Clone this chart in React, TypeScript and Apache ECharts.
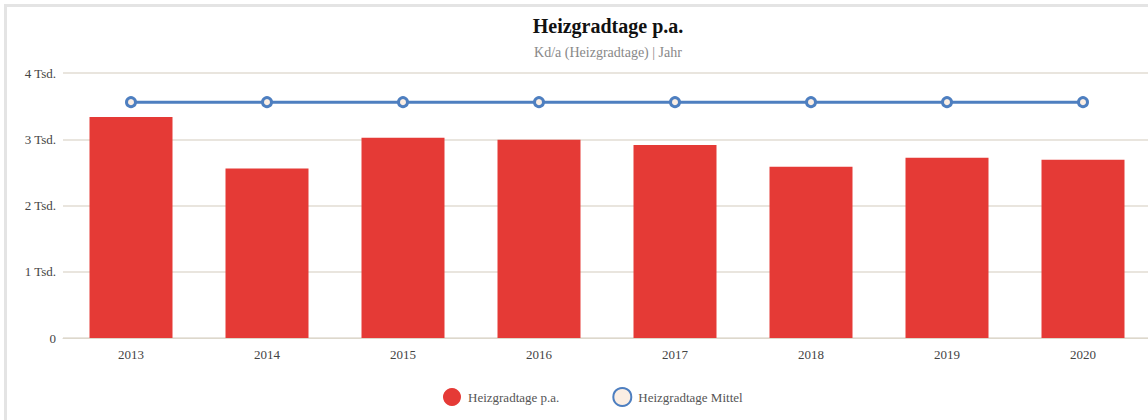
import React, { useEffect, useRef } from "react";
import * as echarts from "echarts";

const categories = ["2013", "2014", "2015", "2016", "2017", "2018", "2019", "2020"];
const heizgradtage = [3336, 2560, 3022, 2992, 2915, 2585, 2720, 2690];
const mittel = [3560, 3560, 3560, 3560, 3560, 3560, 3560, 3560];
const yTicks = [0, 1000, 2000, 3000, 4000];

const FONT = "'Liberation Serif', 'Times New Roman', serif";

export default function App() {
  const ref = useRef<HTMLDivElement>(null);
  useEffect(() => {
    if (!ref.current) return;
    const chart = echarts.init(ref.current, undefined, { renderer: "svg" });
    chart.setOption({
      animation: false,
      textStyle: { fontFamily: FONT },
      title: {
        text: "Heizgradtage p.a.",
        subtext: "Kd/a (Heizgradtage) | Jahr",
        left: "center",
        top: 9,
        padding: 0,
        itemGap: 9,
        textStyle: { fontFamily: FONT, fontSize: 20, fontWeight: "bold", color: "#111" },
        subtextStyle: { fontFamily: FONT, fontSize: 14, color: "#888" },
      },
      legend: {
        left: 431,
        top: 375,
        itemWidth: 18,
        itemHeight: 18,
        itemGap: 53,
        textStyle: { fontFamily: FONT, fontSize: 13, color: "#555", padding: [0, 0, 0, 2] },
        data: [
          { name: "Heizgradtage p.a.", icon: "circle" },
          { name: "Heizgradtage Mittel", icon: "circle" },
        ],
      },
      grid: { left: 56, right: 58, top: 66, bottom: 109, containLabel: false },
      xAxis: {
        type: "category",
        data: categories,
        axisTick: { show: false },
        axisLine: { lineStyle: { color: "#ddd8cc", width: 1 } },
        axisLabel: { color: "#444", fontSize: 13, fontFamily: FONT, margin: 10 },
      },
      yAxis: {
        type: "value",
        min: yTicks[0],
        max: yTicks[yTicks.length - 1],
        interval: 1000,
        axisLine: { show: false },
        axisTick: { show: false },
        splitLine: { lineStyle: { color: "#e2ddd3", width: 1.5 } },
        axisLabel: {
          color: "#444",
          fontSize: 13,
          fontFamily: FONT,
          margin: 7,
          formatter: (v: number) => (v === 0 ? "0" : `${v / 1000} Tsd.`),
        },
      },
      series: [
        {
          name: "Heizgradtage p.a.",
          type: "bar",
          data: heizgradtage,
          barWidth: 83,
          itemStyle: { color: "#e53a36" },
        },
        {
          name: "Heizgradtage Mittel",
          type: "line",
          data: mittel,
          symbol: "circle",
          symbolSize: 9,
          showAllSymbol: true,
          lineStyle: { color: "#4e7fc0", width: 3 },
          itemStyle: { color: "#fbeee3", borderColor: "#4e7fc0", borderWidth: 3 },
        },
      ],
    });
    return () => chart.dispose();
  }, []);

  return (
    <div style={{ position: "fixed", left: 0, top: 0, width: 1148, height: 420, overflow: "hidden", background: "#fff" }}>
      <div
        style={{
          position: "absolute",
          left: 4,
          top: 4,
          width: 1202,
          height: 440,
          border: "3px solid #e4e4e4",
        }}
      >
        <div ref={ref} style={{ width: 1202, height: 440 }} />
      </div>
    </div>
  );
}
